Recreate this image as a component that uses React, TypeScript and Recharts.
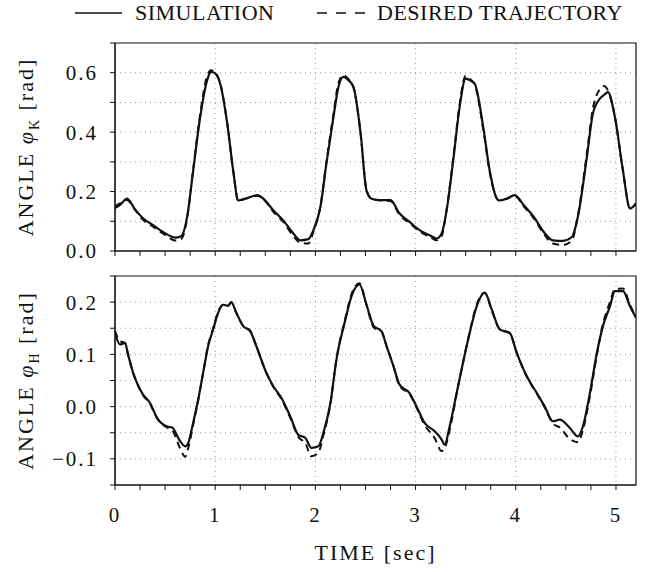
import React from 'react';
import {
  LineChart,
  Line,
  XAxis,
  YAxis,
  CartesianGrid,
  ReferenceArea
} from 'recharts';

// Knee angle (top panel)
const kneeTime = [0, 0.05, 0.12, 0.2, 0.28, 0.38, 0.45, 0.52, 0.6, 0.66, 0.72, 0.78, 0.85, 0.92, 0.96, 1.0, 1.05, 1.12, 1.18, 1.23, 1.3, 1.42, 1.48, 1.58, 1.68, 1.78, 1.85, 1.93, 1.98, 2.05, 2.11, 2.18, 2.23, 2.28, 2.33, 2.38, 2.45, 2.51, 2.56, 2.65, 2.75, 2.84, 2.94, 3.04, 3.14, 3.21, 3.26, 3.31, 3.38, 3.44, 3.5, 3.54, 3.59, 3.68, 3.74, 3.83, 3.91, 3.99, 4.08, 4.18, 4.28, 4.37, 4.47, 4.56, 4.62, 4.71, 4.77, 4.84, 4.88, 4.92, 4.99, 5.07, 5.14, 5.2];
const kneeSim = [0.145, 0.155, 0.176, 0.14, 0.11, 0.087, 0.07, 0.056, 0.045, 0.05, 0.115, 0.27, 0.45, 0.575, 0.603, 0.598, 0.563, 0.43, 0.27, 0.17, 0.176, 0.188, 0.176, 0.137, 0.103, 0.059, 0.036, 0.04, 0.07, 0.148, 0.294, 0.45, 0.552, 0.586, 0.575, 0.552, 0.4, 0.204, 0.176, 0.171, 0.171, 0.126, 0.098, 0.07, 0.053, 0.042, 0.059, 0.137, 0.317, 0.485, 0.58, 0.575, 0.563, 0.406, 0.27, 0.17, 0.176, 0.188, 0.154, 0.115, 0.064, 0.036, 0.034, 0.047, 0.115, 0.317, 0.463, 0.513, 0.525, 0.535, 0.45, 0.27, 0.143, 0.16];
const kneeDes = [0.15, 0.16, 0.172, 0.138, 0.105, 0.082, 0.065, 0.05, 0.035, 0.04, 0.11, 0.275, 0.46, 0.59, 0.608, 0.6, 0.565, 0.43, 0.27, 0.17, 0.176, 0.186, 0.175, 0.132, 0.098, 0.05, 0.028, 0.025, 0.065, 0.15, 0.3, 0.46, 0.565, 0.592, 0.578, 0.55, 0.4, 0.205, 0.176, 0.17, 0.168, 0.122, 0.094, 0.066, 0.048, 0.036, 0.05, 0.14, 0.325, 0.495, 0.59, 0.58, 0.56, 0.4, 0.265, 0.172, 0.176, 0.185, 0.15, 0.11, 0.058, 0.025, 0.02, 0.035, 0.12, 0.33, 0.48, 0.545, 0.555, 0.54, 0.45, 0.27, 0.145, 0.16];

// Hip angle (bottom panel)
const hipTime = [0, 0.05, 0.1, 0.13, 0.18, 0.22, 0.28, 0.35, 0.42, 0.52, 0.57, 0.65, 0.7, 0.73, 0.78, 0.83, 0.88, 0.93, 0.98, 1.03, 1.08, 1.13, 1.16, 1.21, 1.28, 1.35, 1.41, 1.51, 1.58, 1.66, 1.75, 1.83, 1.9, 1.96, 2.03, 2.08, 2.15, 2.21, 2.3, 2.36, 2.44, 2.51, 2.58, 2.66, 2.71, 2.78, 2.84, 2.94, 3.01, 3.09, 3.19, 3.26, 3.29, 3.34, 3.41, 3.48, 3.54, 3.61, 3.69, 3.76, 3.84, 3.94, 4.01, 4.11, 4.21, 4.29, 4.37, 4.44, 4.54, 4.62, 4.67, 4.74, 4.81, 4.87, 4.94, 4.99, 5.07, 5.14, 5.2];
const hipSim = [0.141, 0.119, 0.122, 0.1, 0.065, 0.045, 0.023, 0.007, -0.022, -0.038, -0.04, -0.066, -0.076, -0.07, -0.031, 0.013, 0.065, 0.116, 0.148, 0.18, 0.195, 0.193, 0.2, 0.18, 0.154, 0.144, 0.116, 0.065, 0.039, 0.017, -0.019, -0.054, -0.06, -0.079, -0.076, -0.05, 0.007, 0.09, 0.167, 0.211, 0.234, 0.195, 0.155, 0.144, 0.116, 0.077, 0.042, 0.026, 0, -0.031, -0.047, -0.063, -0.073, -0.038, 0.026, 0.09, 0.141, 0.192, 0.218, 0.186, 0.148, 0.141, 0.103, 0.058, 0.026, 0, -0.028, -0.025, -0.041, -0.057, -0.038, 0.026, 0.103, 0.154, 0.192, 0.221, 0.221, 0.192, 0.17];
const hipDes = [0.145, 0.125, 0.122, 0.1, 0.065, 0.045, 0.022, 0.005, -0.022, -0.04, -0.045, -0.08, -0.096, -0.08, -0.035, 0.012, 0.065, 0.118, 0.15, 0.182, 0.195, 0.194, 0.2, 0.18, 0.154, 0.145, 0.116, 0.065, 0.038, 0.015, -0.022, -0.058, -0.07, -0.095, -0.088, -0.055, 0.005, 0.09, 0.17, 0.215, 0.236, 0.195, 0.152, 0.144, 0.116, 0.077, 0.04, 0.024, -0.002, -0.035, -0.06, -0.085, -0.08, -0.045, 0.025, 0.09, 0.143, 0.195, 0.218, 0.184, 0.148, 0.14, 0.103, 0.057, 0.025, -0.002, -0.032, -0.04, -0.062, -0.068, -0.045, 0.02, 0.1, 0.158, 0.2, 0.225, 0.226, 0.195, 0.17];

// Tick values
const timeTicks = [0, 0.25, 0.5, 0.75, 1, 1.25, 1.5, 1.75, 2, 2.25, 2.5, 2.75, 3, 3.25, 3.5, 3.75, 4, 4.25, 4.5, 4.75, 5];
const timeGrid = [1, 2, 3, 4, 5];
const kneeTicks = [0, 0.1, 0.2, 0.3, 0.4, 0.5, 0.6, 0.7];
const kneeGrid = [0.1, 0.2, 0.3, 0.4, 0.5, 0.6];
const hipTicks = [-0.15, -0.1, -0.05, 0, 0.05, 0.1, 0.15, 0.2, 0.25];
const hipGrid = [-0.1, -0.05, 0, 0.05, 0.1, 0.15, 0.2];

const kneeData = kneeTime.map((t, i) => ({ t, sim: kneeSim[i], des: kneeDes[i] }));
const hipData = hipTime.map((t, i) => ({ t, sim: hipSim[i], des: hipDes[i] }));

const FONT = 'Liberation Serif';
const INK = '#111';

const tickStyle = { fontSize: 21, fill: INK, fontFamily: FONT, letterSpacing: 2 };

// only label every 0.2 on knee, every 0.1 on hip
const isMultiple = (v: number, step: number) => Math.abs(v / step - Math.round(v / step)) < 1e-6;
const fmtY = (step: number) => (v: number) => {
  if (!isMultiple(v, step)) return '';
  const s = Math.abs(v).toFixed(1);
  return v < -1e-9 ? `\u2212${s}` : s;
};
const fmtX = (v: number) => (isMultiple(v, 1) ? String(v) : '');

const angleTitle = (sub: string) => (props: any) => {
  const vb = props.viewBox || { y: 0, height: 0 };
  const cy = vb.y + vb.height / 2;
  const x = 33;
  return (
    <text
      x={x}
      y={cy}
      transform={`rotate(-90, ${x}, ${cy})`}
      textAnchor="middle"
      fontSize={22}
      fill={INK}
      fontFamily={FONT}
      letterSpacing={2}
    >
      {'ANGLE '}
      <tspan fontStyle="italic">{'\u03C6'}</tspan>
      <tspan fontSize={14} dy={6}>{sub}</tspan>
      <tspan dy={-6}>{' [rad]'}</tspan>
    </text>
  );
};

const Legendish = () => (
  <svg width={648} height={30} style={{ position: 'absolute', left: 0, top: 0 }}>
    <line x1={75} y1={13} x2={122} y2={13} stroke={INK} strokeWidth={1.6} />
    <text x={135} y={20} fontSize={22} fill={INK} fontFamily={FONT} letterSpacing={0.5}>SIMULATION</text>
    <line x1={317} y1={13} x2={367} y2={13} stroke={INK} strokeWidth={1.6} strokeDasharray="10 9" />
    <text x={377} y={20} fontSize={22} fill={INK} fontFamily={FONT} letterSpacing={0.5}>DESIRED TRAJECTORY</text>
  </svg>
);

const App: React.FC = () => {
  return (
    <div style={{ position: 'absolute', left: 0, top: 0, width: 648, height: 572, background: '#fff' }}>
      <Legendish />

      {/* Knee angle */}
      <div style={{ position: 'absolute', left: 0, top: 0 }}>
        <LineChart width={648} height={265} data={kneeData} margin={{ top: 43, right: 12, left: 0, bottom: 0 }}>
          <CartesianGrid
            stroke="#999"
            strokeDasharray="1 4"
            horizontalValues={kneeGrid}
            verticalValues={timeGrid}
          />
          <XAxis
            dataKey="t"
            type="number"
            domain={[0, 5.2]}
            ticks={timeTicks}
            interval={0}
            tickFormatter={() => ''}
            height={14}
            tickSize={5}
            stroke={INK}
            allowDataOverflow
          />
          <YAxis
            type="number"
            domain={[0, 0.7]}
            ticks={kneeTicks}
            interval={0}
            tickFormatter={fmtY(0.2)}
            width={115}
            tickSize={5}
            tickMargin={12}
            stroke={INK}
            tick={tickStyle}
            allowDataOverflow
            label={angleTitle('K')}
          />
          <ReferenceArea x1={0} x2={5.2} y1={0} y2={0.7} fill="none" stroke={INK} strokeWidth={1.2} />
          <Line type="monotone" dataKey="des" stroke={INK} strokeWidth={2} strokeDasharray="7 5" dot={false} isAnimationActive={false} />
          <Line type="monotone" dataKey="sim" stroke={INK} strokeWidth={2.2} dot={false} isAnimationActive={false} />
        </LineChart>
      </div>

      {/* Hip angle */}
      <div style={{ position: 'absolute', left: 0, top: 262 }}>
        <LineChart width={648} height={310} data={hipData} margin={{ top: 14, right: 12, left: 0, bottom: 0 }}>
          <CartesianGrid
            stroke="#999"
            strokeDasharray="1 4"
            horizontalValues={hipGrid}
            verticalValues={timeGrid}
          />
          <XAxis
            dataKey="t"
            type="number"
            domain={[0, 5.2]}
            ticks={timeTicks}
            interval={0}
            tickFormatter={fmtX}
            height={87}
            tickSize={5}
            tickMargin={17}
            stroke={INK}
            tick={tickStyle}
            allowDataOverflow
            label={{ value: 'TIME [sec]', position: 'insideBottom', offset: 12, fontSize: 22, fill: INK, fontFamily: FONT, letterSpacing: 2 }}
          />
          <YAxis
            type="number"
            domain={[-0.15, 0.25]}
            ticks={hipTicks}
            interval={0}
            tickFormatter={fmtY(0.1)}
            width={115}
            tickSize={5}
            tickMargin={12}
            stroke={INK}
            tick={tickStyle}
            allowDataOverflow
            label={angleTitle('H')}
          />
          <ReferenceArea x1={0} x2={5.2} y1={-0.15} y2={0.25} fill="none" stroke={INK} strokeWidth={1.2} />
          <Line type="monotone" dataKey="des" stroke={INK} strokeWidth={2} strokeDasharray="7 5" dot={false} isAnimationActive={false} />
          <Line type="monotone" dataKey="sim" stroke={INK} strokeWidth={2.2} dot={false} isAnimationActive={false} />
        </LineChart>
      </div>
    </div>
  );
};

export default App;
